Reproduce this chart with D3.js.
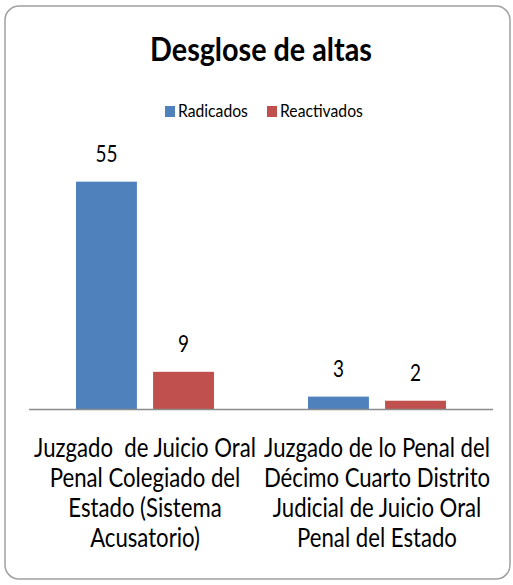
<!DOCTYPE html>
<html><head><meta charset="utf-8">
<script src="https://cdn.jsdelivr.net/npm/d3@7"></script>
<style>
html,body{margin:0;padding:0;background:#fff;}
svg{display:block;}
text{font-family:Lato,"Open Sans","Liberation Sans",sans-serif;fill:#000;}
</style></head>
<body>
<svg id="chart" width="513" height="585"></svg>
<script>
const title = "Desglose de altas";
const seriesNames = ["Radicados", "Reactivados"];
const seriesColors = ["#4F81BD", "#C0504D"];
const categories = [
  ["Juzgado  de Juicio Oral", "Penal Colegiado del", "Estado (Sistema", "Acusatorio)"],
  ["Juzgado de lo Penal del", "Décimo Cuarto Distrito", "Judicial de Juicio Oral", "Penal del Estado"]
];
const radicados = [55, 3];
const reactivados = [9, 2];

const svg = d3.select("#chart");
svg.append("rect").attr("x",5).attr("y",6).attr("width",505).attr("height",573)
  .attr("rx",14).attr("ry",14).attr("fill","#fff").attr("stroke","#a0a0a0").attr("stroke-width",1.5);

// helper: horizontally condensed text placed at (x,y)
function ctext(parent, x, y, str, size, anchor, weight){
  const g = parent.append("g").attr("transform",`translate(${x},${y})`);
  const t = g.append("text").attr("x",0).attr("y",0).attr("text-anchor",anchor||"start")
    .attr("xml:space","preserve").style("font-size",size+"px").style("font-weight",weight||"normal").text(str);
  return {g,t};
}
function squeeze(items, targetWidth){
  const w = items[0].t.node().getComputedTextLength();
  const sx = targetWidth / w;
  items.forEach(it=>{
    const tr = it.g.attr("transform");
    it.g.attr("transform", tr + ` scale(${sx},1)`);
  });
}

const tt = ctext(svg, 261, 61, title, 32, "middle", "bold");
squeeze([tt], 222);

// legend
const legX = [165, 267];
const legTexts = [];
seriesNames.forEach((n,i)=>{
  svg.append("rect").attr("x",legX[i]).attr("y",106).attr("width",10).attr("height",11).attr("fill",seriesColors[i]);
  legTexts.push(ctext(svg, legX[i]+13, 117, n, 17, "start"));
});
squeeze(legTexts, 70);

const x0 = d3.scaleBand().domain(d3.range(categories.length)).range([29,493]);
const x1 = d3.scaleBand().domain(d3.range(seriesNames.length)).range([0,138]).paddingInner(0.21);
const y = d3.scaleLinear().domain([0,60]).range([409,161]);

const data = categories.map((c,i)=>({i, vals:[radicados[i], reactivados[i]]}));
const valTexts = [];
data.forEach(d=>{
  const gx = x0(d.i)+x0.bandwidth()/2-69;
  d.vals.forEach((v,s)=>{
    svg.append("rect").attr("x",gx+x1(s)).attr("width",x1.bandwidth())
      .attr("y",y(v)).attr("height",y(0)-y(v)).attr("fill",seriesColors[s]);
  });
});
data.forEach(d=>{
  const gx = x0(d.i)+x0.bandwidth()/2-69;
  d.vals.forEach((v,s)=>{
    valTexts.push(ctext(svg, gx+x1(s)+x1.bandwidth()/2, y(v)-20, String(v), 24, "middle"));
  });
});
squeeze(valTexts, 22);

svg.append("line").attr("x1",29).attr("x2",493).attr("y1",y(0)+0.5).attr("y2",y(0)+0.5)
  .attr("stroke","#8c8c8c").attr("stroke-width",1.5);

const labTexts = [];
categories.forEach((lines,i)=>{
  lines.forEach((l,j)=>{
    labTexts.push(ctext(svg, x0(i)+x0.bandwidth()/2, 457+j*30, l, 26, "middle"));
  });
});
squeeze(labTexts, 222);
</script>
</body></html>
